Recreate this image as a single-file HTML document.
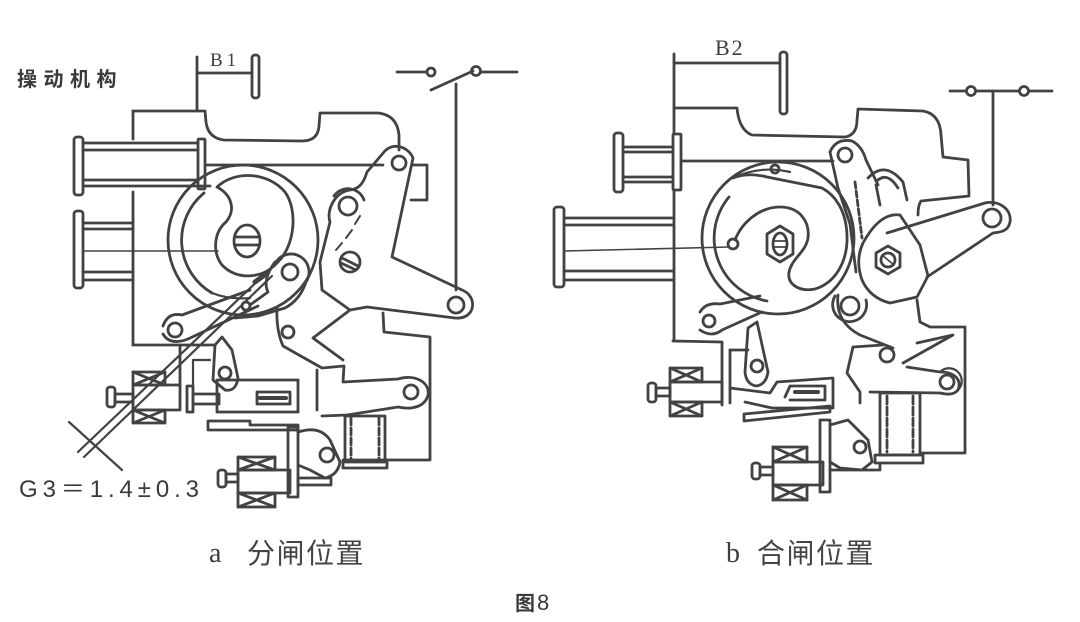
<!DOCTYPE html>
<html><head><meta charset="utf-8">
<style>
html,body{margin:0;padding:0;background:#fff;}
body{width:1080px;height:622px;overflow:hidden;}
svg{display:block;}
.t{font-family:"Liberation Sans","Noto Sans CJK SC",sans-serif;fill:#3a3a3a;}
.s{font-family:"Liberation Serif","Noto Serif CJK SC",serif;fill:#3e3e3e;}
.c{font-family:"Liberation Sans","Noto Sans CJK SC",sans-serif;fill:#444;}
</style></head>
<body>
<svg width="1080" height="622" viewBox="0 0 1080 622" xmlns="http://www.w3.org/2000/svg">
<rect width="1080" height="622" fill="#fff"/>

<!-- ===== TEXT ===== -->
<text x="17" y="86" class="t" font-size="20" font-weight="700" letter-spacing="6.5">操动机构</text>
<text x="210" y="66" class="s" font-size="19" letter-spacing="4">B1</text>
<text x="715" y="55" class="s" font-size="22" letter-spacing="2">B2</text>
<text x="19" y="497" class="t" font-size="24" textLength="180" lengthAdjust="spacing">G3＝1.4±0.3</text>
<text x="209" y="562" class="s" font-size="28">a</text>
<text x="247" y="563" class="c" font-size="28" letter-spacing="1.5">分闸位置</text>
<text x="726" y="562" class="s" font-size="28">b</text>
<text x="757" y="563" class="c" font-size="28" letter-spacing="1.5">合闸位置</text>
<text x="515" y="610" class="t" font-size="20" font-weight="700">图</text>
<text x="537" y="610" class="t" font-size="22">8</text>

<g fill="none" stroke="#424242" stroke-width="2.8" stroke-linejoin="round" stroke-linecap="round">

<!-- ===================== LEFT FIGURE ===================== -->
<!-- B1 dimension -->
<line x1="197" y1="57" x2="197" y2="111"/>
<line x1="197" y1="73" x2="252" y2="73"/>
<rect x="252" y="55" width="7" height="43" rx="3"/>
<!-- top frame -->
<path d="M133,111 L205,111 L206,122 Q208,138 224,140 L302,141 Q318,141 319,126 L320,113 L378,113 Q397,115 399,135 L399,150"/>
<line x1="133" y1="111" x2="133" y2="139"/>
<line x1="133" y1="192" x2="133" y2="345"/>
<line x1="207" y1="165" x2="383" y2="165"/>
<path d="M413,165 L427,165 L427,200 L411,200"/>
<!-- coil 1 -->
<rect x="74" y="137" width="9" height="58" rx="3"/>
<line x1="83" y1="143" x2="198" y2="143"/>
<line x1="83" y1="150" x2="198" y2="150"/>
<line x1="83" y1="180" x2="198" y2="180"/>
<line x1="83" y1="186" x2="210" y2="186"/>
<rect x="198" y="139" width="7" height="50" rx="1"/>
<!-- coil 2 -->
<rect x="74" y="211" width="9" height="77" rx="3"/>
<line x1="83" y1="223" x2="133" y2="223"/>
<line x1="83" y1="229" x2="133" y2="229"/>
<line x1="83" y1="272" x2="133" y2="272"/>
<line x1="83" y1="280" x2="133" y2="280"/>
<line x1="83" y1="251" x2="218" y2="251" stroke-width="1.6"/>
<!-- big circle -->
<circle cx="243" cy="240" r="75"/>
<path d="M204,193 A61,61 0 0 0 212,293"/>
<path d="M212,293 Q230,300 250,298" stroke-width="2.2"/>
<!-- cam -->
<path d="M217,187 C232,195 236,210 226,222 C214,232 212,252 222,265 C236,280 262,280 278,262 C295,245 298,210 285,192 C268,172 235,170 217,187 Z"/>
<ellipse cx="247" cy="241" rx="13" ry="16"/>
<line x1="236" y1="237" x2="258" y2="237"/>
<line x1="236" y1="245" x2="258" y2="245"/>
<!-- roller link -->
<circle cx="290" cy="272" r="8"/>
<path d="M276,262 A17,17 0 1 1 306,282"/>
<path d="M275,262 Q262,280 268,292 L250,305"/>
<path d="M306,282 Q300,300 285,308 L258,316 L235,318"/>
<circle cx="246" cy="306" r="4"/>
<!-- left small link -->
<circle cx="175" cy="330" r="7"/>
<path d="M163,326 Q168,312 182,315 L250,290"/>
<path d="M163,334 Q170,346 188,339 L258,306"/>
<!-- diagonal gauge lines -->
<line x1="78" y1="452" x2="267" y2="272" stroke-width="2.2"/>
<line x1="84" y1="457" x2="272" y2="276" stroke-width="2.2"/>
<line x1="69" y1="422" x2="122" y2="470" stroke-width="2.2"/>
<line x1="255" y1="282" x2="266" y2="274" stroke-width="5"/>
<!-- upright lever -->
<path d="M384,152 C392,142 408,146 413,158 L392,257 L462,290 C478,296 476,320 455,318 L367,307 L350,310 L322,290 L320,262 L330,222 C326,210 335,192 350,190 C358,189 363,185 367,172 Z"/>
<circle cx="399" cy="163" r="7"/>
<circle cx="348" cy="206" r="9"/>
<path d="M334,196 A17,17 0 0 1 364,200"/>
<circle cx="350" cy="262" r="10"/>
<line x1="342" y1="258" x2="358" y2="266"/>
<line x1="341" y1="263" x2="356" y2="270"/>
<line x1="360" y1="216" x2="355" y2="224" stroke-width="2"/>
<line x1="352" y1="230" x2="346" y2="238" stroke-width="2"/>
<line x1="342" y1="243" x2="336" y2="250" stroke-width="2"/>
<circle cx="456" cy="305" r="8"/>
<!-- switch -->
<line x1="456" y1="84" x2="456" y2="290"/>
<line x1="397" y1="72" x2="426" y2="72"/>
<circle cx="431" cy="72" r="4"/>
<line x1="431" y1="90" x2="473" y2="71"/>
<circle cx="476" cy="71" r="4.5"/>
<line x1="481" y1="72" x2="517" y2="72"/>
<!-- lower frame -->
<path d="M383,313 L384,332 L430,337 L430,460 L386,460"/>
<!-- lower right lever -->
<path d="M277,308 Q276,330 283,346 L322,368 L344,366 L343,382 L398,379 C415,374 430,382 428,395 C425,407 412,410 398,407 L347,415 L322,416"/>
<path d="M350,310 L313,338 L343,360"/>
<line x1="317" y1="370" x2="317" y2="410"/>
<circle cx="288" cy="332" r="6"/>
<circle cx="411" cy="392" r="7"/>
<!-- upper latch L -->
<path d="M133,345 L215,345"/>
<line x1="180" y1="345" x2="180" y2="386"/>
<path d="M193,386 L193,360 L210,360" stroke-width="2.2"/>
<rect x="107" y="387" width="8" height="20" rx="3"/>
<rect x="115" y="394" width="18" height="8"/>
<rect x="133" y="372" width="32" height="13"/>
<path d="M133,372 L165,385 M165,372 L133,385"/>
<rect x="133" y="410" width="32" height="13"/>
<path d="M133,410 L165,423 M165,410 L133,423"/>
<rect x="133" y="385" width="47" height="25"/>
<rect x="187" y="386" width="6" height="26"/>
<rect x="193" y="394" width="26" height="10"/>
<rect x="217" y="380" width="81" height="32"/>
<rect x="257" y="392" width="33" height="12"/>
<line x1="260" y1="398" x2="286" y2="398" stroke-width="4"/>
<path d="M208,430 L208,421 L250,421 L250,425 L298,425 L298,430 Z"/>
<path d="M215,345 L222,337 L232,350 L238,378 Q236,392 225,390 L213,380 Z"/>
<circle cx="225" cy="373" r="6"/>
<!-- lower latch L -->
<rect x="218" y="470" width="8" height="17" rx="3"/>
<rect x="226" y="474" width="12" height="8"/>
<rect x="238" y="457" width="37" height="13"/>
<path d="M238,457 L275,470 M275,457 L238,470"/>
<rect x="238" y="493" width="37" height="14"/>
<path d="M238,493 L275,507 M275,493 L238,507"/>
<rect x="238" y="470" width="52" height="23"/>
<rect x="288" y="427" width="10" height="70"/>
<path d="M298,432 Q320,425 330,440 L340,462 Q338,475 325,478 L310,470 L298,465"/>
<circle cx="327" cy="455" r="7"/>
<rect x="298" y="478" width="33" height="7"/>
<!-- lower coil L -->
<rect x="345" y="416" width="40" height="46"/>
<line x1="351" y1="418" x2="351" y2="460" stroke-dasharray="7 3"/>
<line x1="379" y1="418" x2="379" y2="460" stroke-dasharray="7 3"/>
<rect x="343" y="460" width="44" height="8"/>

<!-- ===================== RIGHT FIGURE ===================== -->
<!-- B2 -->
<line x1="674" y1="54" x2="674" y2="134"/>
<line x1="674" y1="63" x2="780" y2="63"/>
<rect x="780" y="52" width="7" height="62" rx="3"/>
<line x1="674" y1="190" x2="674" y2="341"/>
<!-- top frame -->
<path d="M674,108 L737,108 Q739,130 752,135 L845,137 Q857,135 857,120 L858,109 L923,111 Q940,114 941,135 L943,157 L968,160 L969,196 L921,201 Q918,205 918,215"/>
<line x1="681" y1="161" x2="833" y2="161"/>
<!-- coil 1 R -->
<rect x="614" y="133" width="9" height="59" rx="3"/>
<line x1="623" y1="147" x2="673" y2="147"/>
<line x1="623" y1="152" x2="673" y2="152"/>
<line x1="623" y1="177" x2="673" y2="177"/>
<line x1="623" y1="182" x2="673" y2="182"/>
<rect x="673" y="134" width="8" height="56" rx="1"/>
<!-- coil 2 R -->
<rect x="554" y="207" width="10" height="80" rx="3"/>
<line x1="564" y1="218" x2="673" y2="218"/>
<line x1="564" y1="225" x2="673" y2="225"/>
<line x1="564" y1="271" x2="673" y2="271"/>
<line x1="564" y1="280" x2="673" y2="280"/>
<line x1="564" y1="251" x2="729" y2="247" stroke-width="1.6"/>
<!-- big circle R -->
<circle cx="778" cy="238" r="76"/>
<path d="M729,197 A64,64 0 0 0 767,301"/>
<circle cx="733" cy="244" r="5"/>
<circle cx="775" cy="169" r="4"/>
<!-- cam R -->
<path d="M735,240 C742,222 760,207 780,207 C800,207 810,222 808,238 C806,252 792,258 789,272 C787,285 800,292 815,289 C835,283 848,262 847,235 C846,210 835,195 822,188 L767,177 Q748,172 733,178"/>
<path d="M733,178 Q760,165 790,172" stroke-width="2.2"/>
<polygon points="780,226 793,234 793,254 780,262 767,254 767,234"/>
<ellipse cx="780" cy="244" rx="7" ry="11"/>
<line x1="774" y1="241" x2="786" y2="241" stroke-width="1.8"/>
<line x1="774" y1="247" x2="786" y2="247" stroke-width="1.8"/>
<!-- upper lever R -->
<path d="M830,152 Q836,138 852,141 Q862,146 866,160 L878,185"/>
<path d="M830,152 L838,188 L850,224 L856,272"/>
<circle cx="845" cy="155" r="7"/>
<path d="M855,182 L862,238" stroke-dasharray="6 3"/>
<path d="M868,178 Q885,160 903,182 L907,200"/>
<path d="M878,180 Q888,172 898,188"/>
<path d="M880,205 L876,185"/>
<!-- hex lever body -->
<path d="M863,243 Q855,260 862,280 Q870,298 890,303 L917,297 L928,276 L920,245 L900,215 Q880,212 863,243 Z"/>
<polygon points="888,246 900,253 900,267 888,274 876,267 876,253"/>
<circle cx="888" cy="260" r="7"/>
<line x1="882" y1="255" x2="894" y2="265" stroke-width="1.6"/>
<!-- arm R -->
<path d="M887,233 L985,203 C1000,200 1012,210 1010,222 C1008,232 1000,232 993,233 L927,277"/>
<circle cx="992" cy="218" r="9"/>
<!-- switch R -->
<line x1="993" y1="91" x2="993" y2="205"/>
<line x1="950" y1="91" x2="966" y2="91"/>
<circle cx="971" cy="91" r="4.5"/>
<line x1="976" y1="91" x2="1019" y2="91"/>
<circle cx="1024" cy="91" r="4.5"/>
<line x1="1029" y1="91" x2="1052" y2="91"/>
<!-- lower boss R -->
<circle cx="850" cy="306" r="9"/>
<path d="M835,296 A17,17 0 1 0 866,300"/>
<path d="M838,295 Q835,322 860,335 L893,348"/>
<!-- small lever left R -->
<circle cx="709" cy="321" r="6"/>
<path d="M700,312 Q706,302 720,304 L760,296"/>
<path d="M700,330 Q712,338 722,330 L762,312"/>
<!-- frame lower R -->
<path d="M673,341 L722,342 L722,405"/>
<line x1="730" y1="350" x2="730" y2="403"/>
<line x1="730" y1="350" x2="748" y2="350"/>
<!-- upper latch R -->
<rect x="648" y="383" width="8" height="19" rx="3"/>
<rect x="656" y="388" width="14" height="8"/>
<rect x="670" y="368" width="32" height="14"/>
<path d="M670,368 L702,382 M702,368 L670,382"/>
<rect x="670" y="402" width="32" height="14"/>
<path d="M670,402 L702,416 M702,402 L670,416"/>
<rect x="670" y="382" width="52" height="20"/>
<path d="M748,328 L757,322 L768,372 Q766,385 756,386 Q746,384 745,372 Z"/>
<circle cx="757" cy="366" r="6"/>
<path d="M730,388 L770,393 L777,382 L833,378 L833,408 L772,408 L745,402"/>
<path d="M785,397 L790,386 L825,386 L825,400 L790,400"/>
<line x1="795" y1="392" x2="818" y2="392" stroke-width="4"/>
<path d="M744,421 L744,414 L830,406 L830,412 Z"/>
<!-- lower latch R -->
<rect x="752" y="463" width="8" height="16" rx="3"/>
<rect x="760" y="467" width="13" height="8"/>
<rect x="773" y="447" width="34" height="15"/>
<path d="M773,447 L807,462 M807,447 L773,462"/>
<rect x="773" y="485" width="34" height="15"/>
<path d="M773,485 L807,500 M807,485 L773,500"/>
<rect x="773" y="462" width="50" height="23"/>
<rect x="820" y="420" width="10" height="72"/>
<path d="M830,425 L848,420 L868,440 L872,462 L862,470 L840,468 L830,462"/>
<circle cx="860" cy="447" r="6"/>
<path d="M830,470 L880,470 L880,463"/>
<!-- lower coil R -->
<rect x="880" y="393" width="40" height="62"/>
<line x1="887" y1="396" x2="887" y2="452" stroke-dasharray="8 3"/>
<line x1="913" y1="396" x2="913" y2="452" stroke-dasharray="8 3"/>
<rect x="875" y="455" width="48" height="8"/>
<!-- frame right R -->
<path d="M917,300 L920,322 L930,327 L965,327 L965,453 L920,453"/>
<!-- right lever R -->
<path d="M853,347 L883,345"/>
<circle cx="887" cy="355" r="7"/>
<path d="M917,343 L953,335 L903,363"/>
<path d="M907,367 L940,372 C955,372 962,380 958,390 C953,396 945,394 940,393 L870,392"/>
<path d="M853,347 L847,373 L860,392 L860,403"/>
<circle cx="947" cy="382" r="7"/>
<path d="M940,372 A12,12 0 0 1 958,390" stroke-width="2.2"/>
</g>
</svg>
</body></html>
